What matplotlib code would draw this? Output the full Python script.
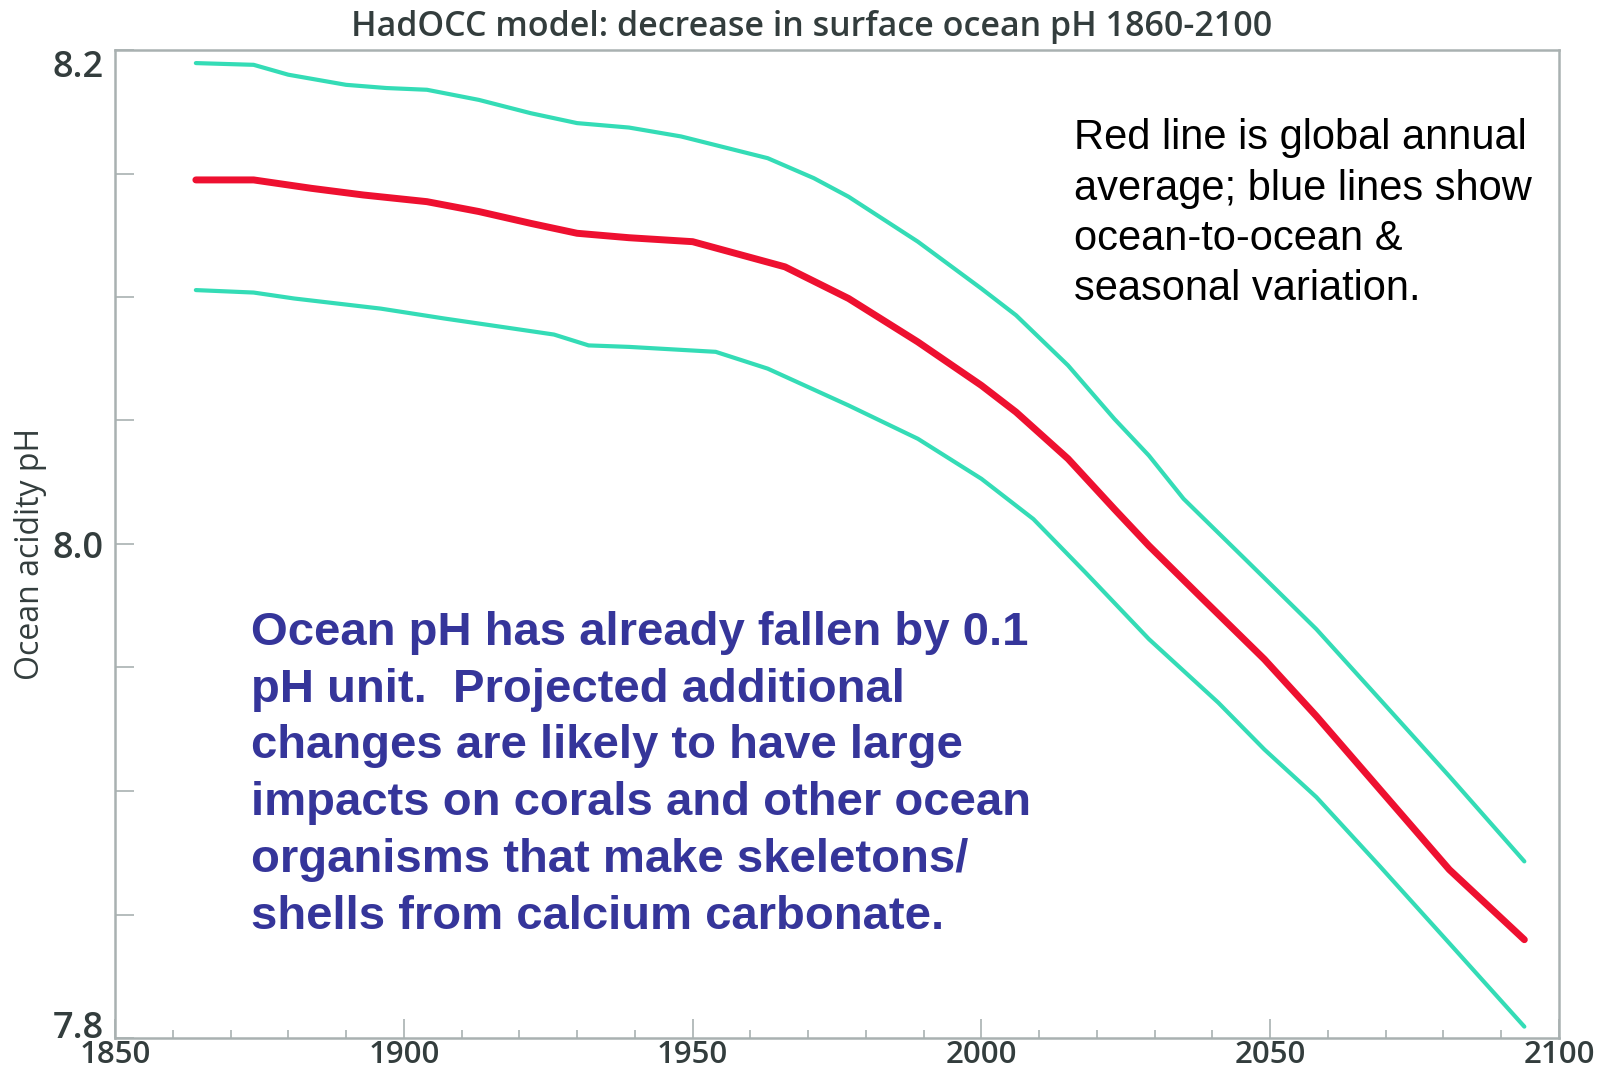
import numpy as np
import matplotlib
matplotlib.use('Agg')
from matplotlib import pyplot as plt
from matplotlib.ticker import MultipleLocator, FixedLocator

# values
years_hi = [1864, 1874, 1880, 1890, 1897, 1904, 1913, 1922, 1930, 1939, 1948,
			1963, 1971, 1977, 1989, 2000, 2006, 2015, 2023, 2029, 2035, 2046,
			2058, 2069, 2081, 2094]
ph_hi = [8.1947, 8.1940, 8.1900, 8.1859, 8.1846, 8.1839, 8.1798, 8.1744, 8.1704,
		 8.1686, 8.1650, 8.1562, 8.1481, 8.1406, 8.1224, 8.1034, 8.0926, 8.0723,
		 8.0507, 8.0358, 8.0183, 7.9931, 7.9655, 7.9371, 7.9060, 7.8715]

years_mean = [1864, 1874, 1884, 1893, 1904, 1913, 1922, 1930, 1939, 1950, 1966,
			  1977, 1989, 2000, 2006, 2015, 2023, 2029, 2038, 2049, 2058,
			  2069, 2081, 2094]
ph_mean = [8.1474, 8.1474, 8.1440, 8.1413, 8.1386, 8.1346, 8.1298, 8.1258, 8.1240,
		   8.1224, 8.1122, 8.0994, 8.0818, 8.0642, 8.0534, 8.0345, 8.0142, 7.9993,
		   7.9785, 7.9533, 7.9303, 7.9006, 7.8682, 7.8398]

years_lo = [1864, 1874, 1881, 1896, 1907, 1919, 1926, 1932, 1939, 1954, 1963,
			1977, 1989, 2000, 2009, 2018, 2029, 2041, 2049, 2058, 2069, 2081, 2094]
ph_lo = [8.1028, 8.1018, 8.0994, 8.0953, 8.0913, 8.0872, 8.0848, 8.0804, 8.0798,
		 8.0778, 8.0710, 8.0561, 8.0426, 8.0264, 8.0101, 7.9885, 7.9615, 7.9358,
		 7.9168, 7.8975, 7.8695, 7.8384, 7.8046]

x_labels = ['1850', '1900', '1950', '2000', '2050', '2100']
y_labels = ['7.8', '8.0', '8.2']

grey = '#a9b1b1'
txt = '#333d3d'
cyan = '#34dcb6'
red = '#ee1030'

fig = plt.figure(figsize=(16.08, 10.77), dpi=100)
ax = fig.add_axes([115/1608, 1-1038/1077, 1444/1608, 988/1077])

ax.plot(years_hi, ph_hi, color=cyan, linewidth=3, solid_capstyle='round', solid_joinstyle='round')
ax.plot(years_lo, ph_lo, color=cyan, linewidth=3, solid_capstyle='round', solid_joinstyle='round')
ax.plot(years_mean, ph_mean, color=red, linewidth=5, solid_capstyle='round', solid_joinstyle='round')

ax.set_xlim(1850, 2100)
ax.set_ylim(7.8, 8.2)

ax.xaxis.set_major_locator(FixedLocator([int(v) for v in x_labels]))
ax.xaxis.set_minor_locator(MultipleLocator(10))
ax.set_xticklabels(x_labels)
ax.yaxis.set_major_locator(FixedLocator([float(v) for v in y_labels]))
ax.yaxis.set_minor_locator(MultipleLocator(0.05))
ax.set_yticklabels(y_labels)

ax.tick_params(axis='x', which='major', direction='in', length=14, width=1.2,
			   color=grey, pad=1.5, labelsize=22.5, labelcolor=txt)
ax.tick_params(axis='x', which='minor', direction='in', length=6, width=1.2, color=grey)
ax.tick_params(axis='y', which='both', direction='in', length=14, width=1.2,
			   color=grey, pad=8, labelsize=26, labelcolor=txt)
for lab in ax.get_xticklabels() + ax.get_yticklabels():
	lab.set_fontfamily('Open Sans')
	lab.set_fontweight('semibold')
ax.get_yticklabels()[-1].set_va('top')
ax.get_yticklabels()[0].set_va('baseline')

for s in ax.spines.values():
	s.set_color(grey)
	s.set_linewidth(1.8)

ax.set_ylabel('Ocean acidity pH', fontsize=23, color=txt, family='Open Sans')
ax.yaxis.set_label_coords(-0.047, 0.49)

fig.text(0.505, 0.975, 'HadOCC model: decrease in surface ocean pH 1860-2100',
		 ha='center', va='center', fontsize=24.5, color=txt, family='Open Sans',
		 fontweight='semibold')

fig.text(1074/1608, 0.89, 'Red line is global annual\naverage; blue lines show\n'
		 'ocean-to-ocean &\nseasonal variation.',
		 ha='left', va='top', fontsize=30, color='black',
		 family='Liberation Sans', linespacing=1.33)

fig.text(251/1608, 0.433, 'Ocean pH has already fallen by 0.1\n'
		 'pH unit.  Projected additional\n'
		 'changes are likely to have large\n'
		 'impacts on corals and other ocean\n'
		 'organisms that make skeletons/\n'
		 'shells from calcium carbonate.',
		 ha='left', va='top', fontsize=34, fontweight='bold', color='#35359a',
		 family='Liberation Sans', linespacing=1.38)

fig.savefig('out.png', dpi=100, facecolor='white')
